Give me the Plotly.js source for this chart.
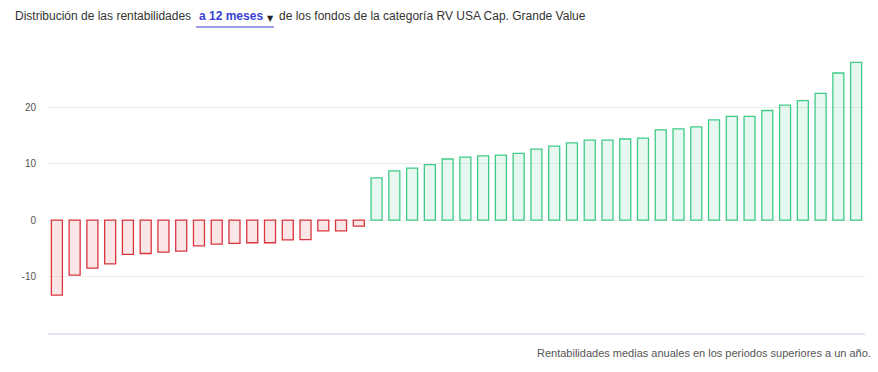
<!DOCTYPE html>
<html>
<head>
<meta charset="utf-8">
<script src="https://cdn.plot.ly/plotly-3.0.1.min.js"></script>
<style>html,body{margin:0;padding:0;background:#fff;}#chart{width:878px;height:372px;}</style>
</head>
<body>
<div id="chart"></div>
<script>
// Returns of funds (%), sorted ascending
const negativeReturns = [-13.3, -9.75, -8.5, -7.75, -6.05, -5.9, -5.65, -5.5, -4.55, -4.25, -4.1, -4.0, -4.0, -3.5, -3.45, -1.9, -1.9, -1.05];
const positiveReturns = [7.5, 8.75, 9.25, 9.85, 10.85, 11.2, 11.4, 11.55, 11.85, 12.6, 13.15, 13.7, 14.2, 14.2, 14.4, 14.55, 16.0, 16.2, 16.55, 17.8, 18.4, 18.4, 19.45, 20.4, 21.2, 22.5, 26.1, 28.0];
const yTickVals = [-20, -10, 0, 10, 20, 30];
const yTickText = ['', '-10', '0', '10', '20', ''];
const titleBefore = 'Distribución de las rentabilidades';
const periodLabel = 'a 12 meses';
const titleAfter = 'de los fondos de la categoría RV USA Cap. Grande Value';
const footnote = 'Rentabilidades medias anuales en los periodos superiores a un año.';

const negX = negativeReturns.map((v, i) => i);
const posX = positiveReturns.map((v, i) => i + negativeReturns.length);
const total = negativeReturns.length + positiveReturns.length;

const traces = [
  {type: 'bar', x: negX, y: negativeReturns,
   marker: {color: 'rgba(220,60,70,0.13)', line: {color: '#d9363e', width: 1.3}},
   hoverinfo: 'y'},
  {type: 'bar', x: posX, y: positiveReturns,
   marker: {color: 'rgba(60,200,130,0.12)', line: {color: '#3fcb87', width: 1.3}},
   hoverinfo: 'y'}
];

const L = 48, R = 13, T = 51, B = 39, W = 878, H = 372;
const pw = W - L - R, ph = H - T - B;
const px = p => (p - L) / pw;
const py = p => (H - B - p) / ph;

const fontFam = '"Liberation Sans", Arial, sans-serif';
const layout = {
  width: W, height: H,
  margin: {l: L, r: R, t: T, b: B, pad: 0},
  paper_bgcolor: '#fff', plot_bgcolor: '#fff',
  barmode: 'overlay', bargap: 0.38,
  showlegend: false,
  font: {family: fontFam, size: 11, color: '#555'},
  xaxis: {range: [-0.5, total - 0.5], showticklabels: false, showgrid: false, zeroline: false,
          showline: true, linecolor: '#e1e3ef', linewidth: 2, fixedrange: true},
  yaxis: {range: [-20, 30], tickvals: yTickVals, ticktext: yTickText,
          gridcolor: '#ececec', gridwidth: 1, zeroline: false, showline: false,
          ticks: 'outside', ticklen: 9, tickcolor: 'rgba(0,0,0,0)',
          tickfont: {size: 10, color: '#555', family: fontFam}, fixedrange: true},
  annotations: [
    {xref: 'paper', yref: 'paper', x: px(13), y: py(16), xanchor: 'left', yanchor: 'middle',
     showarrow: false, font: {size: 12, color: '#333', family: fontFam},
     text: titleBefore},
    {xref: 'paper', yref: 'paper', x: px(197), y: py(16), xanchor: 'left', yanchor: 'middle',
     showarrow: false, font: {size: 12, color: '#3a3fd6', family: fontFam},
     text: '<b>' + periodLabel + '</b>'},
    {xref: 'paper', yref: 'paper', x: px(265), y: py(18), xanchor: 'left', yanchor: 'middle',
     showarrow: false, font: {size: 8, color: '#222', family: '"DejaVu Sans", sans-serif'},
     text: '▼'},
    {xref: 'paper', yref: 'paper', x: px(277), y: py(16), xanchor: 'left', yanchor: 'middle',
     showarrow: false, font: {size: 12, color: '#333', family: fontFam},
     text: titleAfter},
    {xref: 'paper', yref: 'paper', x: px(873), y: py(353), xanchor: 'right', yanchor: 'middle',
     showarrow: false, font: {size: 11, color: '#555', family: fontFam},
     text: footnote}
  ],
  shapes: [
    {type: 'line', xref: 'paper', yref: 'paper', x0: px(196), x1: px(274), y0: py(27), y1: py(27),
     line: {color: '#3a3fd6', width: 1}}
  ]
};

Plotly.newPlot('chart', traces, layout, {displayModeBar: false, staticPlot: true});
</script>
</body>
</html>
